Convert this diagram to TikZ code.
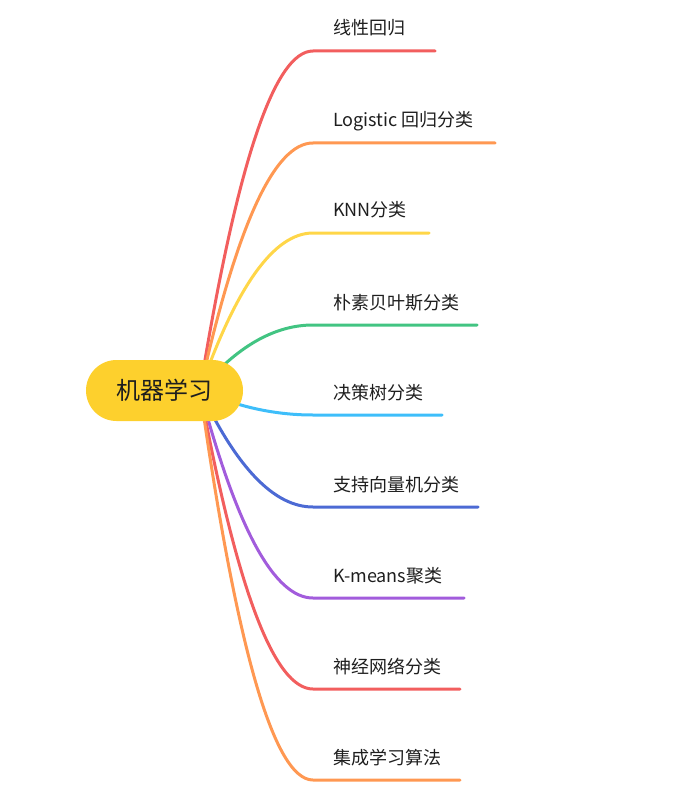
\documentclass[tikz,border=0pt]{standalone}
\usepackage{fontspec}
\usetikzlibrary{calc}
\setmainfont{Noto Sans CJK SC}
\definecolor{cred}{RGB}{242,94,94}
\definecolor{corange}{RGB}{255,152,82}
\definecolor{cyellow}{RGB}{255,214,72}
\definecolor{cgreen}{RGB}{66,196,130}
\definecolor{clblue}{RGB}{62,190,250}
\definecolor{cdblue}{RGB}{76,106,212}
\definecolor{cpurple}{RGB}{162,92,220}
\definecolor{cnode}{RGB}{253,208,45}
\definecolor{ctext}{RGB}{30,30,30}
\tikzset{
  branch/.style={line width=3pt, line cap=round},
  leaf/.style={anchor=base west, inner sep=0pt, text=ctext, font=\fontsize{18}{20}\selectfont},
  rootnode/.style={fill=cnode, draw=none, rounded corners=30.5pt, minimum width=157pt, minimum height=61pt, inner sep=0pt, text=ctext, font=\fontsize{24}{26}\selectfont}
}
\begin{document}
\begin{tikzpicture}[x=1pt,y=-1pt]
\useasboundingbox (0,0) rectangle (688,810);
\coordinate (root) at (200,390);
\foreach \i/\y/\xe/\col/\txt in {
  1/51/435/cred/线性回归,
  2/143/495/corange/Logistic 回归分类,
  3/233/429/cyellow/KNN分类,
  4/325/477/cgreen/朴素贝叶斯分类,
  5/415/442/clblue/决策树分类,
  6/507/478/cdblue/支持向量机分类,
  7/598/464/cpurple/K-means聚类,
  8/689/460/cred/神经网络分类,
  9/780/460/corange/集成学习算法}{
  \coordinate (b\i) at (313,\y);
  \coordinate (e\i) at (\xe,\y);
  \coordinate (k\i) at (255,\y);
  \node[leaf] (t\i) at (333,\y-16) {\txt};
  \draw[branch, draw=\col] (root) .. controls ($(root)!0.6667!(k\i)$) and ($(b\i)!0.6667!(k\i)$) .. (b\i) -- (e\i);
}
\node[rootnode] (c) at (164.5,390.5) {机器学习};
\end{tikzpicture}
\end{document}
